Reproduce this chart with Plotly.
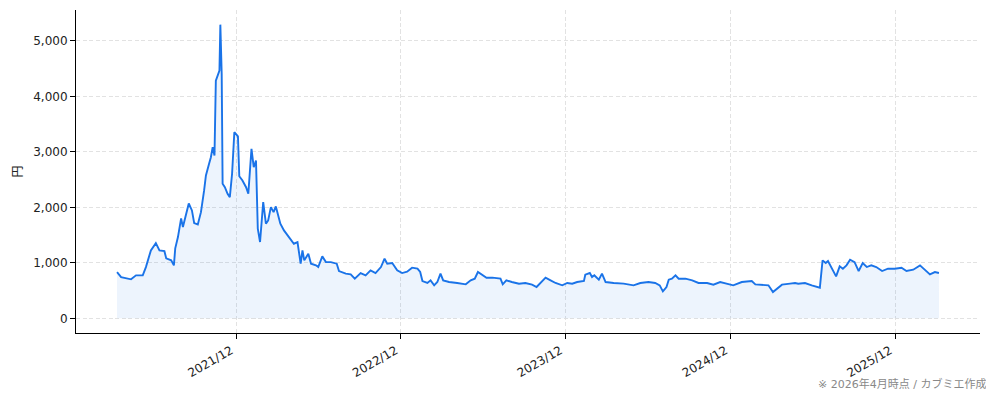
import plotly.graph_objects as go

# 株価の推移 (読み取り値)
dates = [
    "2021-03-12", "2021-03-21", "2021-04-12", "2021-04-23", "2021-05-08", "2021-05-15",
    "2021-05-26", "2021-06-06", "2021-06-14", "2021-06-25", "2021-06-29", "2021-07-10",
    "2021-07-16", "2021-07-19", "2021-07-25", "2021-08-01", "2021-08-05", "2021-08-12",
    "2021-08-18", "2021-08-25", "2021-08-30", "2021-09-07", "2021-09-14", "2021-09-21",
    "2021-09-25", "2021-10-02", "2021-10-06", "2021-10-10", "2021-10-14", "2021-10-17",
    "2021-10-21", "2021-10-25", "2021-10-27", "2021-10-30", "2021-11-01", "2021-11-06",
    "2021-11-12", "2021-11-17", "2021-11-22", "2021-11-27", "2021-12-05", "2021-12-08",
    "2021-12-15", "2021-12-23", "2021-12-28",
    "2022-01-04", "2022-01-09", "2022-01-14", "2022-01-18", "2022-01-23", "2022-01-30",
    "2022-02-05", "2022-02-10", "2022-02-16", "2022-02-22", "2022-02-27", "2022-03-09",
    "2022-03-17", "2022-03-28", "2022-04-08", "2022-04-16", "2022-04-23", "2022-04-27",
    "2022-05-01", "2022-05-10", "2022-05-16", "2022-05-27", "2022-06-01", "2022-06-10",
    "2022-06-18", "2022-06-29", "2022-07-12", "2022-07-17", "2022-08-01", "2022-08-12",
    "2022-08-21", "2022-09-03", "2022-09-14", "2022-09-25", "2022-10-06", "2022-10-18",
    "2022-10-26", "2022-11-01", "2022-11-12", "2022-11-23", "2022-12-04", "2022-12-15",
    "2022-12-26",
    "2023-01-07", "2023-01-13", "2023-01-18", "2023-01-29", "2023-02-05", "2023-02-13",
    "2023-02-20", "2023-02-27", "2023-03-05", "2023-03-18", "2023-04-05", "2023-04-24",
    "2023-05-05", "2023-05-14", "2023-05-21", "2023-05-31", "2023-06-09", "2023-06-22",
    "2023-07-03", "2023-07-10", "2023-07-15", "2023-07-23", "2023-08-04", "2023-08-20",
    "2023-09-03", "2023-09-18", "2023-09-28", "2023-10-06", "2023-10-18", "2023-10-29",
    "2023-11-09", "2023-11-24", "2023-12-05", "2023-12-16", "2023-12-27",
    "2024-01-11", "2024-01-14", "2024-01-24", "2024-01-29", "2024-02-03", "2024-02-13",
    "2024-02-20", "2024-02-28", "2024-03-17", "2024-04-08", "2024-04-30", "2024-05-15",
    "2024-06-02", "2024-06-17", "2024-06-27", "2024-07-04", "2024-07-12", "2024-07-17",
    "2024-07-24", "2024-08-01", "2024-08-08", "2024-08-23", "2024-09-07", "2024-09-21",
    "2024-10-10", "2024-10-24", "2024-11-08", "2024-11-23", "2024-12-07", "2024-12-26",
    "2025-01-17", "2025-01-25", "2025-02-12", "2025-02-23", "2025-03-05", "2025-03-14",
    "2025-03-25", "2025-04-12", "2025-04-23", "2025-04-30", "2025-05-15", "2025-05-30",
    "2025-06-17", "2025-06-23", "2025-06-30", "2025-07-05", "2025-07-16", "2025-07-23",
    "2025-07-31", "2025-08-07", "2025-08-15", "2025-08-23", "2025-09-02", "2025-09-11",
    "2025-09-20", "2025-09-29", "2025-10-09", "2025-10-20", "2025-11-02", "2025-11-15",
    "2025-11-30", "2025-12-15", "2025-12-26",
    "2026-01-10", "2026-01-25", "2026-02-05", "2026-02-16", "2026-02-27", "2026-03-08",
]
prices = [
    833, 743, 702, 774, 774, 923,
    1224, 1355, 1224, 1210, 1080, 1044,
    954, 1260, 1464, 1800, 1644, 1890,
    2070, 1944, 1715, 1692, 1913, 2304,
    2574, 2784, 2903, 3083, 2934, 4284,
    4374, 4464, 5292, 4404, 2424, 2364,
    2244, 2184, 2604, 3353, 3280, 2560,
    2484, 2363, 2244,
    3054, 2724, 2844, 1614, 1374, 2094,
    1704, 1764, 2004, 1913, 2016, 1704,
    1584, 1464, 1344, 1374, 984, 1224,
    1044, 1164, 984, 954, 923, 1116,
    1013, 1013, 984, 851, 804, 792,
    714, 815, 774, 864, 815, 923,
    1074, 984, 995, 864, 815, 840,
    912,
    894, 834, 672, 636, 684, 594,
    654, 804, 684, 654, 636, 612,
    684, 714, 834, 774, 732, 732,
    714, 714, 612, 684, 654, 624,
    636, 606, 564, 636, 732, 684,
    636, 594, 636, 624, 654,
    672, 786, 816, 744, 774, 696,
    804, 654, 636, 624, 594, 636,
    654, 636, 594, 486, 564, 696,
    714, 774, 714, 714, 684, 636,
    636, 606, 654, 624, 594, 654,
    672, 612, 606, 594, 474, 534,
    606, 624, 636, 624, 636, 594,
    552, 1044, 996, 1032, 852, 756,
    936, 894, 954, 1056, 1013, 852,
    996, 924, 954, 924, 852, 894,
    894, 912, 852,
    876, 954, 864, 792, 834, 816,
]

line_color = "#1a73e8"
font_family = "DejaVu Sans, Noto Sans CJK JP"

fig = go.Figure()

fig.add_trace(go.Scatter(
    x=dates,
    y=prices,
    mode="lines",
    line=dict(color=line_color, width=1.9),
    fill="tozeroy",
    fillcolor="rgba(26,115,232,0.08)",
    showlegend=False,
    hovertemplate="%{x|%Y/%m/%d}<br>%{y:,}円<extra></extra>",
))

axis_common = dict(
    showline=True,
    linecolor="black",
    linewidth=1,
    ticks="outside",
    ticklen=5,
    tickcolor="black",
    showgrid=True,
    gridcolor="#e2e2e2",
    griddash="4px,2.5px",
    gridwidth=0.8,
    zeroline=False,
    automargin=False,
    tickfont=dict(family=font_family, size=12, color="#222"),
)

fig.update_xaxes(
    **axis_common,
    type="date",
    range=["2020-12-11", "2026-06-07"],
    tick0="2021-12-01",
    dtick="M12",
    tickformat="%Y/%m",
    tickangle=-30,
    ticklabelshift=-5,
)
fig.update_yaxes(
    **axis_common,
    range=[-265, 5556],
    dtick=1000,
    tickformat=",d",
    title=dict(text="円", font=dict(family=font_family, size=12, color="#222"), standoff=8),
)

fig.add_annotation(
    text="※ 2026年4月時点 / カブミエ作成",
    xref="paper", yref="paper",
    x=1.0085, y=-0.158,
    xanchor="right", yanchor="middle",
    showarrow=False,
    font=dict(family=font_family, size=11, color="#888"),
)

# ページ余白(8px)の分だけ小さく取る
fig.update_layout(
    width=986,
    height=393,
    margin=dict(l=68, r=14, t=2, b=68),
    plot_bgcolor="white",
    paper_bgcolor="white",
    font=dict(family=font_family),
)

fig.write_html("out.html")
